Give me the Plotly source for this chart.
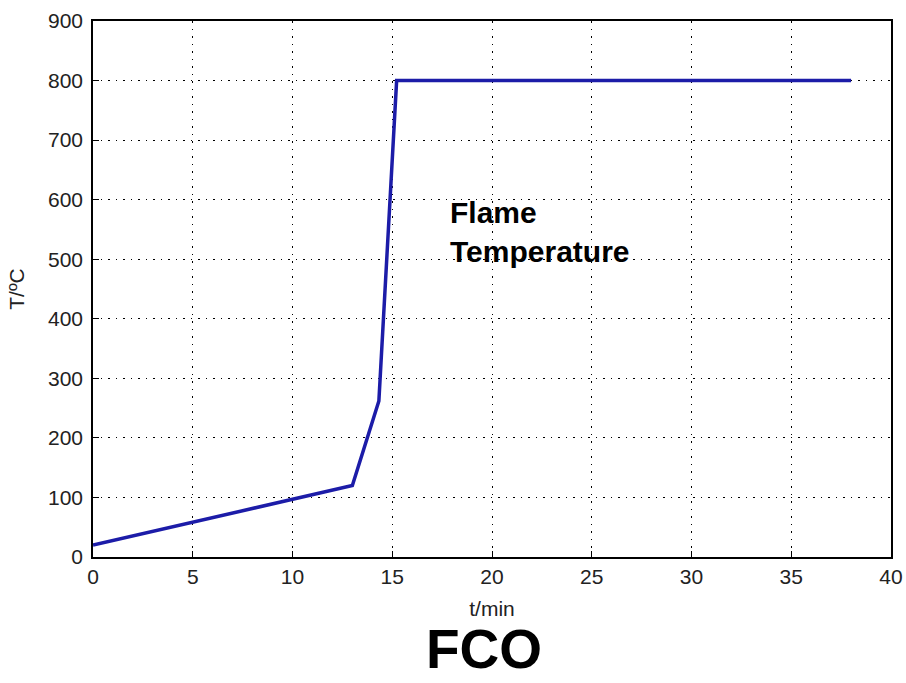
import plotly.graph_objects as go

# Flame temperature curve (time in minutes, temperature in °C)
t_min = [0.0, 13.0, 14.33, 15.22, 38.0]
temp_c = [20, 120, 262, 800, 800]

x_ticks = [0, 5, 10, 15, 20, 25, 30, 35, 40]
y_ticks = [0, 100, 200, 300, 400, 500, 600, 700, 800, 900]

tick_font = dict(family="Liberation Sans, Arial, sans-serif", size=21, color="#222222")

fig = go.Figure()
fig.add_trace(go.Scatter(
    x=t_min, y=temp_c, mode="lines",
    line=dict(color="#1c1ca8", width=3.5),
    showlegend=False,
))

axis_common = dict(
    showline=True, linecolor="black", linewidth=1.5, mirror=True,
    ticks="inside", ticklen=6, tickcolor="black",
    showgrid=True, gridcolor="black", griddash="1.5px,6px", gridwidth=1.2,
    zeroline=False, tickfont=tick_font,
)

fig.update_xaxes(
    range=[0, 40], tickvals=x_ticks, ticktext=[str(v) for v in x_ticks],
    title=dict(text="t/min", font=tick_font, standoff=14),
    **axis_common,
)
fig.update_yaxes(
    range=[0, 900], tickvals=y_ticks, ticktext=[str(v) for v in y_ticks],
    ticklabelstandoff=4,
    title=dict(text="T/ºC", font=tick_font, standoff=18),
    **axis_common,
)

fig.add_annotation(
    x=17.8, y=546, xref="x", yref="y", xanchor="left", yanchor="middle",
    text="<b>Flame<br>Temperature</b>", showarrow=False, align="left",
    font=dict(family="Liberation Sans, Arial, sans-serif", size=30, color="black"),
)
fig.add_annotation(
    x=0.49, y=-0.172, xref="paper", yref="paper", xanchor="center", yanchor="middle",
    text="<b>FCO</b>", showarrow=False,
    font=dict(family="Liberation Sans, Arial, sans-serif", size=55, color="black"),
)

fig.update_layout(
    width=906, height=683,
    margin=dict(l=93, r=15, t=21, b=126, autoexpand=False),
    plot_bgcolor="white", paper_bgcolor="white",
)

fig.write_html("out.html")
